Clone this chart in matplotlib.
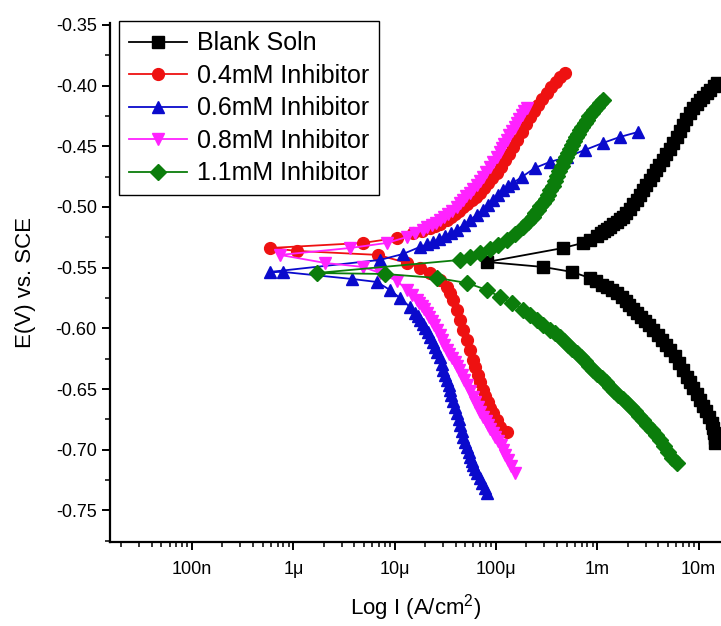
import numpy as np
import matplotlib
matplotlib.use("Agg")
import matplotlib.pyplot as plt
from matplotlib.ticker import FixedLocator, FuncFormatter, MultipleLocator, LogLocator, NullFormatter

plt.rcParams['font.family'] = ['Liberation Sans', 'DejaVu Sans']
plt.rcParams['mathtext.fontset'] = 'custom'
plt.rcParams['mathtext.rm'] = 'Liberation Sans'
plt.rcParams['axes.unicode_minus'] = False

# log10 of current density (A/cm2) and potential (V vs SCE)
# each series runs cathodic end -> Ecorr -> anodic end
blank_logi = [-1.838, -1.843, -1.848, -1.858, -1.868, -1.897, -1.927, -1.956, -1.986, -2.020,
              -2.055, -2.085, -2.114, -2.153, -2.193, -2.237, -2.282, -2.321, -2.361, -2.405,
              -2.450, -2.490, -2.529, -2.568, -2.608, -2.647, -2.687, -2.721, -2.756, -2.805,
              -2.855, -2.904, -2.953, -3.012, -3.072, -3.249, -3.536,
              -4.088,
              -3.338, -3.141, -3.072, -3.003, -2.968, -2.934, -2.904, -2.874, -2.840, -2.805,
              -2.776, -2.746, -2.712, -2.677, -2.643, -2.608, -2.579, -2.549, -2.515, -2.480,
              -2.450, -2.420, -2.386, -2.351, -2.317, -2.282, -2.248, -2.213, -2.184, -2.154,
              -2.120, -2.085, -2.051, -2.016, -1.986, -1.956, -1.922, -1.887, -1.853, -1.818]
blank_e = [-0.6944, -0.6903, -0.6862, -0.6821, -0.6780, -0.6730, -0.6681, -0.6636, -0.6590, -0.6541,
           -0.6491, -0.6446, -0.6400, -0.6343, -0.6285, -0.6231, -0.6178, -0.6137, -0.6096, -0.6055,
           -0.6013, -0.5976, -0.5939, -0.5906, -0.5873, -0.5840, -0.5807, -0.5774, -0.5741, -0.5712,
           -0.5684, -0.5663, -0.5642, -0.5613, -0.5585, -0.5535, -0.5494,
           -0.5453,
           -0.5338, -0.5296, -0.5268, -0.5239, -0.5218, -0.5197, -0.5180, -0.5164, -0.5143, -0.5123,
           -0.5102, -0.5082, -0.5049, -0.5016, -0.4979, -0.4942, -0.4901, -0.4860, -0.4818, -0.4777,
           -0.4736, -0.4695, -0.4653, -0.4612, -0.4567, -0.4522, -0.4472, -0.4423, -0.4373, -0.4324,
           -0.4274, -0.4225, -0.4188, -0.4151, -0.4122, -0.4093, -0.4064, -0.4036, -0.4007, -0.3978]

inh04_logi = [-3.891, -3.960, -3.990, -4.029, -4.059, -4.078, -4.108, -4.128, -4.157, -4.177,
              -4.207, -4.227, -4.256, -4.286, -4.325, -4.355, -4.384, -4.424, -4.454, -4.483,
              -4.552, -4.651, -4.750, -4.878, -5.164, -5.964, -6.230,
              -5.312, -4.977, -4.819, -4.730, -4.651, -4.602, -4.552, -4.483, -4.444, -4.404,
              -4.365, -4.325, -4.286, -4.236, -4.197, -4.157, -4.118, -4.078, -4.039, -3.990,
              -3.950, -3.911, -3.871, -3.832, -3.792, -3.743, -3.703, -3.664, -3.624, -3.585,
              -3.545, -3.496, -3.457, -3.407, -3.368, -3.318]
inh04_e = [-0.6854, -0.6812, -0.6755, -0.6697, -0.6656, -0.6606, -0.6557, -0.6508, -0.6442, -0.6384,
           -0.6318, -0.6260, -0.6178, -0.6096, -0.6013, -0.5931, -0.5848, -0.5766, -0.5708, -0.5659,
           -0.5601, -0.5544, -0.5502, -0.5461, -0.5395, -0.5362, -0.5338,
           -0.5296, -0.5255, -0.5214, -0.5197, -0.5173, -0.5156, -0.5140, -0.5107, -0.5082, -0.5057,
           -0.5033, -0.5000, -0.4975, -0.4942, -0.4917, -0.4884, -0.4843, -0.4802, -0.4761, -0.4720,
           -0.4670, -0.4612, -0.4563, -0.4505, -0.4448, -0.4382, -0.4316, -0.4258, -0.4209, -0.4159,
           -0.4110, -0.4060, -0.4011, -0.3970, -0.3928, -0.3896]

inh06_logi = [-4.088, -4.113, -4.138, -4.162, -4.187, -4.207, -4.227, -4.241, -4.256, -4.271,
              -4.286, -4.305, -4.325, -4.340, -4.355, -4.369, -4.384, -4.404, -4.424, -4.439,
              -4.454, -4.468, -4.483, -4.503, -4.523, -4.537, -4.552, -4.577, -4.602, -4.626,
              -4.651, -4.675, -4.700, -4.725, -4.750, -4.774, -4.799, -4.848, -4.947, -5.046,
              -5.174, -5.421, -6.102, -6.230,
              -5.144, -4.917, -4.750, -4.685, -4.621, -4.562, -4.503, -4.444, -4.384, -4.320,
              -4.256, -4.192, -4.128, -4.079, -4.029, -3.980, -3.930, -3.881, -3.832, -3.743,
              -3.615, -3.467, -3.299, -3.121, -2.943, -2.776, -2.598]
inh06_e = [-0.7356, -0.7315, -0.7274, -0.7233, -0.7192, -0.7159, -0.7126, -0.7093, -0.7060, -0.7019,
           -0.6977, -0.6936, -0.6895, -0.6846, -0.6796, -0.6747, -0.6697, -0.6648, -0.6598, -0.6553,
           -0.6508, -0.6467, -0.6425, -0.6384, -0.6343, -0.6290, -0.6236, -0.6195, -0.6153, -0.6112,
           -0.6071, -0.6034, -0.5997, -0.5964, -0.5931, -0.5902, -0.5873, -0.5824, -0.5750, -0.5684,
           -0.5618, -0.5593, -0.5535, -0.5535,
           -0.5436, -0.5387, -0.5329, -0.5309, -0.5288, -0.5264, -0.5239, -0.5214, -0.5189, -0.5148,
           -0.5107, -0.5066, -0.5024, -0.4983, -0.4942, -0.4901, -0.4860, -0.4831, -0.4802, -0.4752,
           -0.4678, -0.4629, -0.4588, -0.4530, -0.4472, -0.4423, -0.4382]

inh08_logi = [-3.812, -3.847, -3.881, -3.906, -3.930, -3.955, -3.980, -4.005, -4.029, -4.054,
              -4.078, -4.103, -4.128, -4.153, -4.177, -4.202, -4.227, -4.257, -4.286, -4.311,
              -4.335, -4.360, -4.384, -4.409, -4.434, -4.459, -4.483, -4.508, -4.532, -4.557,
              -4.582, -4.607, -4.631, -4.656, -4.681, -4.706, -4.730, -4.755, -4.779, -4.829,
              -4.878, -4.977, -5.144, -5.312, -5.687, -6.131,
              -5.441, -5.075, -4.878, -4.799, -4.720, -4.676, -4.631, -4.592, -4.552, -4.513,
              -4.473, -4.429, -4.384, -4.355, -4.325, -4.291, -4.256, -4.222, -4.187, -4.158,
              -4.128, -4.094, -4.059, -4.025, -3.990, -3.965, -3.940, -3.916, -3.891, -3.867,
              -3.842, -3.817, -3.792, -3.768, -3.743, -3.719, -3.694]
inh08_e = [-0.7192, -0.7138, -0.7084, -0.7043, -0.7002, -0.6965, -0.6928, -0.6895, -0.6862, -0.6829,
           -0.6796, -0.6763, -0.6730, -0.6689, -0.6648, -0.6607, -0.6565, -0.6516, -0.6466, -0.6425,
           -0.6384, -0.6347, -0.6310, -0.6277, -0.6244, -0.6211, -0.6178, -0.6137, -0.6096, -0.6055,
           -0.6013, -0.5976, -0.5939, -0.5906, -0.5873, -0.5844, -0.5815, -0.5791, -0.5766, -0.5725,
           -0.5684, -0.5609, -0.5544, -0.5494, -0.5461, -0.5395,
           -0.5338, -0.5296, -0.5247, -0.5218, -0.5189, -0.5169, -0.5148, -0.5128, -0.5107, -0.5082,
           -0.5057, -0.5029, -0.5000, -0.4971, -0.4942, -0.4913, -0.4884, -0.4851, -0.4818, -0.4785,
           -0.4752, -0.4711, -0.4670, -0.4629, -0.4588, -0.4551, -0.4514, -0.4481, -0.4448, -0.4411,
           -0.4373, -0.4341, -0.4308, -0.4275, -0.4242, -0.4213, -0.4184]

inh11_logi = [-2.213, -2.258, -2.302, -2.342, -2.381, -2.421, -2.460, -2.505, -2.549, -2.589,
              -2.628, -2.668, -2.707, -2.751, -2.795, -2.835, -2.874, -2.914, -2.953, -2.998,
              -3.042, -3.082, -3.121, -3.161, -3.200, -3.245, -3.289, -3.329, -3.368, -3.418,
              -3.467, -3.531, -3.595, -3.664, -3.733, -3.842, -3.960, -4.088, -4.286, -4.582,
              -5.095, -5.766,
              -4.355, -4.256, -4.157, -4.059, -3.980, -3.891, -3.812, -3.733, -3.684, -3.634,
              -3.610, -3.585, -3.561, -3.536, -3.511, -3.486, -3.462, -3.437, -3.417, -3.397,
              -3.373, -3.348, -3.329, -3.309, -3.289, -3.269, -3.250, -3.230, -3.210, -3.190,
              -3.171, -3.151, -3.126, -3.101, -3.077, -3.052, -3.028, -3.003, -2.973, -2.943]
inh11_e = [-0.7109, -0.7064, -0.7018, -0.6969, -0.6920, -0.6879, -0.6837, -0.6796, -0.6755, -0.6718,
           -0.6681, -0.6648, -0.6615, -0.6582, -0.6549, -0.6516, -0.6483, -0.6446, -0.6409, -0.6376,
           -0.6343, -0.6306, -0.6269, -0.6236, -0.6203, -0.6170, -0.6137, -0.6104, -0.6071, -0.6042,
           -0.6013, -0.5972, -0.5931, -0.5890, -0.5848, -0.5791, -0.5741, -0.5684, -0.5626, -0.5585,
           -0.5552, -0.5544,
           -0.5436, -0.5412, -0.5379, -0.5346, -0.5313, -0.5272, -0.5222, -0.5164, -0.5123, -0.5082,
           -0.5053, -0.5024, -0.4996, -0.4967, -0.4934, -0.4901, -0.4864, -0.4827, -0.4786, -0.4744,
           -0.4703, -0.4662, -0.4625, -0.4588, -0.4555, -0.4522, -0.4489, -0.4456, -0.4427, -0.4398,
           -0.4369, -0.4340, -0.4312, -0.4283, -0.4254, -0.4225, -0.4201, -0.4176, -0.4147, -0.4118]

labels = ['Blank Soln', '0.4mM Inhibitor', '0.6mM Inhibitor', '0.8mM Inhibitor', '1.1mM Inhibitor']
colors = ['#000000', '#ee1111', '#0a0acc', '#ff22ff', '#0b7d0b']
markers = ['s', 'o', '^', 'v', 'D']
msizes = [8, 8.5, 9, 9, 8]
series = [(blank_logi, blank_e), (inh04_logi, inh04_e), (inh06_logi, inh06_e),
          (inh08_logi, inh08_e), (inh11_logi, inh11_e)]

fig = plt.figure(figsize=(7.21, 6.26), dpi=100)
ax = fig.add_axes([0.1526, 0.1342, 0.8474, 0.8291])

for (lg, e), lab, c, m, s in zip(series, labels, colors, markers, msizes):
    ax.plot(10 ** np.array(lg), e, color=c, marker=m, markersize=s, markeredgecolor=c,
            markerfacecolor=c, linewidth=1.3, label=lab)

ax.set_xscale('log')
ax.set_xlim(10 ** -7.809, 10 ** -1.779)
ax.set_ylim(-0.776, -0.3484)

tick_names = {-7: '100n', -6: '1\u03bc', -5: '10\u03bc', -4: '100\u03bc', -3: '1m', -2: '10m'}
ax.xaxis.set_major_locator(FixedLocator([10.0 ** k for k in tick_names]))
ax.xaxis.set_major_formatter(FuncFormatter(lambda v, p: tick_names.get(int(round(np.log10(v))), '')))
ax.xaxis.set_minor_locator(LogLocator(base=10, subs=np.arange(2, 10), numticks=20))
ax.xaxis.set_minor_formatter(NullFormatter())
ax.yaxis.set_major_locator(MultipleLocator(0.05))
ax.yaxis.set_minor_locator(MultipleLocator(0.025))
ax.yaxis.set_major_formatter(FuncFormatter(lambda v, p: '%.2f' % v))

for side in ['top', 'right']:
    ax.spines[side].set_visible(False)
for side in ['left', 'bottom']:
    ax.spines[side].set_linewidth(1.6)
ax.tick_params(which='major', direction='out', length=6, width=1.4, labelsize=13)
ax.tick_params(axis='x', which='major', pad=8)
ax.tick_params(which='minor', direction='out', length=3.5, width=1.1)

ax.set_xlabel('Log I (A/cm$^2$)', fontsize=16, labelpad=10)
ax.set_ylabel('E(V) vs. SCE', fontsize=16, labelpad=14)

leg = ax.legend(loc='upper left', bbox_to_anchor=(0.015, 1.003), borderaxespad=0, fontsize=18,
                fancybox=False, framealpha=1, edgecolor='black', handlelength=2.3,
                labelspacing=0.34, handletextpad=0.4, borderpad=0.4)
leg.get_frame().set_linewidth(1.0)

fig.savefig('out.png', dpi=100)
